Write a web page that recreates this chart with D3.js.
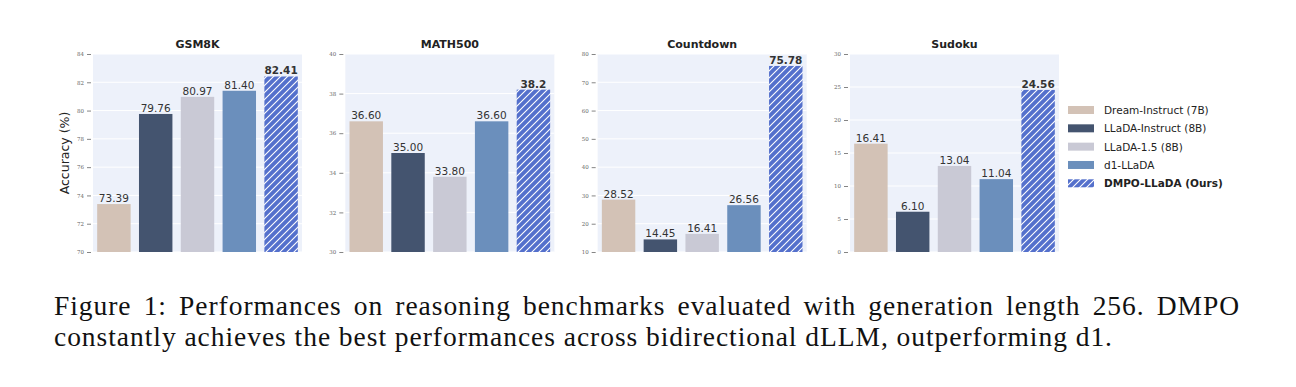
<!DOCTYPE html>
<html>
<head>
<meta charset="utf-8">
<script src="https://cdn.jsdelivr.net/npm/d3@7"></script>
<style>
  body { margin: 0; background: #fff; }
  svg { display: block; }
</style>
</head>
<body>
<div id="chart"></div>
<script>
// benchmark panels
var benchmarks = ["GSM8K", "MATH500", "Countdown", "Sudoku"];
var yDomains = [[70, 84], [30, 40], [10, 80], [0, 30]];
var yTickSteps = [2, 2, 10, 5];

// models (one series each, values in benchmark order)
var models = ["Dream-Instruct (7B)", "LLaDA-Instruct (8B)", "LLaDA-1.5 (8B)", "d1-LLaDA", "DMPO-LLaDA (Ours)"];
var dreamVals = [73.39, 36.60, 28.52, 16.41];
var lladaInstructVals = [79.76, 35.00, 14.45, 6.10];
var llada15Vals = [80.97, 33.80, 16.41, 13.04];
var d1Vals = [81.40, 36.60, 26.56, 11.04];
var dmpoVals = [82.41, 38.2, 75.78, 24.56];
var seriesVals = [dreamVals, lladaInstructVals, llada15Vals, d1Vals, dmpoVals];
var colors = ["#d3c2b6", "#44546f", "#c9c9d5", "#6b8fbc", "#5470cc"];

var caption1 = "Figure 1: Performances on reasoning benchmarks evaluated with generation length 256. DMPO";
var caption2 = "constantly achieves the best performances across bidirectional dLLM, outperforming d1.";

var W = 1296, H = 387;
var svg = d3.select("#chart").append("svg").attr("width", W).attr("height", H);

var defs = svg.append("defs");
var pat = defs.append("pattern")
    .attr("id", "hatch")
    .attr("patternUnits", "userSpaceOnUse")
    .attr("width", 7).attr("height", 7);
pat.append("rect").attr("width", 7).attr("height", 7).attr("fill", colors[4]);
pat.append("path")
    .attr("d", "M-1.75,1.75 l3.5,-3.5 M0,7 l7,-7 M5.25,8.75 l3.5,-3.5")
    .attr("stroke", "#fff").attr("stroke-width", 1.1);

var panelW = 209, plotTop = 54, plotBottom = 252;
var panelX = d3.scaleLinear().domain([0, 3]).range([93, 850]);

benchmarks.forEach(function(name, bi){
    var x0 = panelX(bi);
    var g = svg.append("g");

    var x = d3.scaleBand().domain(models).range([x0, x0 + panelW])
        .paddingInner(0.2).paddingOuter(0.1);
    var y = d3.scaleLinear().domain(yDomains[bi]).range([plotBottom, plotTop]);
    var ticks = d3.range(yDomains[bi][0], yDomains[bi][1] + 0.001, yTickSteps[bi]);

    g.append("rect")
        .attr("x", x0).attr("y", plotTop)
        .attr("width", panelW).attr("height", plotBottom - plotTop)
        .attr("fill", "#edf1fa");

    g.selectAll("line.grid").data(ticks).enter().append("line")
        .attr("class", "grid")
        .attr("x1", x0).attr("x2", x0 + panelW)
        .attr("y1", function(d){ return y(d); })
        .attr("y2", function(d){ return y(d); })
        .attr("stroke", "#fff").attr("stroke-width", 1);

    var yAxis = d3.axisLeft(y).tickValues(ticks).tickSize(4).tickPadding(3)
        .tickFormat(d3.format("d"));
    var ax = g.append("g").attr("transform", "translate(" + (x0 - 2) + ",0)").call(yAxis);
    ax.select(".domain").remove();
    ax.selectAll(".tick line").attr("stroke", "#666").attr("stroke-width", 0.8);
    ax.selectAll(".tick text")
        .attr("fill", "#666")
        .style("font-family", "'DejaVu Serif', serif")
        .style("font-size", "5.5px");

    var rows = models.map(function(m, mi){
        return {model: m, idx: mi, value: seriesVals[mi][bi]};
    });

    g.selectAll("rect.bar").data(rows).enter().append("rect")
        .attr("class", "bar")
        .attr("x", function(d){ return x(d.model); })
        .attr("width", x.bandwidth())
        .attr("y", function(d){ return y(d.value); })
        .attr("height", function(d){ return y(yDomains[bi][0]) - y(d.value); })
        .attr("fill", function(d){ return d.idx === 4 ? "url(#hatch)" : colors[d.idx]; });

    g.selectAll("text.val").data(rows).enter().append("text")
        .attr("class", "val")
        .attr("x", function(d){ return x(d.model) + x.bandwidth() / 2; })
        .attr("y", function(d){ return y(d.value) - 2; })
        .attr("text-anchor", "middle")
        .attr("fill", "#333")
        .style("font-family", "'DejaVu Sans', sans-serif")
        .style("font-size", "10.5px")
        .style("font-weight", function(d){ return d.idx === 4 ? "bold" : "normal"; })
        .text(function(d){ return d.idx === 4 ? String(d.value) : d.value.toFixed(2); });

    g.append("text")
        .attr("x", x0 + panelW / 2).attr("y", 48)
        .attr("text-anchor", "middle")
        .attr("fill", "#222")
        .style("font-family", "'DejaVu Sans', sans-serif")
        .style("font-size", "11px")
        .style("font-weight", "bold")
        .text(name);
});

svg.append("text")
    .attr("transform", "translate(69," + ((plotTop + plotBottom) / 2) + ") rotate(-90)")
    .attr("text-anchor", "middle")
    .attr("fill", "#222")
    .style("font-family", "'DejaVu Sans', sans-serif")
    .style("font-size", "12.5px")
    .style("font-weight", 500)
    .text("Accuracy (%)");

// legend
var legend = svg.append("g");
var legendY = d3.scaleLinear().domain([0, 4]).range([110, 183.3]);
models.forEach(function(m, mi){
    var cy = legendY(mi);
    legend.append("rect")
        .attr("x", 1068).attr("y", cy - 4)
        .attr("width", 26).attr("height", 8)
        .attr("fill", mi === 4 ? "url(#hatch)" : colors[mi]);
    legend.append("text")
        .attr("x", 1104).attr("y", cy + 4)
        .attr("fill", "#222")
        .style("font-family", "'DejaVu Sans', sans-serif")
        .style("font-size", "10.5px")
        .style("font-weight", mi === 4 ? "bold" : "normal")
        .text(m);
});

// caption: first line justified, second line natural
var cap = svg.append("g")
    .style("font-family", "'Liberation Serif', 'Times New Roman', serif")
    .style("font-size", "27.5px")
    .attr("fill", "#111");
var line1 = cap.append("text").attr("x", 54).attr("y", 315).text(caption1);
var line2 = cap.append("text").attr("x", 54).attr("y", 346).text(caption2);
var nat2 = line2.node().getComputedTextLength();
var ls = Math.max(0, (1112 - 54 - nat2) / (caption2.length - 1));
cap.style("letter-spacing", ls + "px");
var w1 = line1.node().getComputedTextLength();
var spaces = caption1.split(" ").length - 1;
line1.style("word-spacing", ((1240 - 54 - w1) / spaces) + "px");
</script>
</body>
</html>
